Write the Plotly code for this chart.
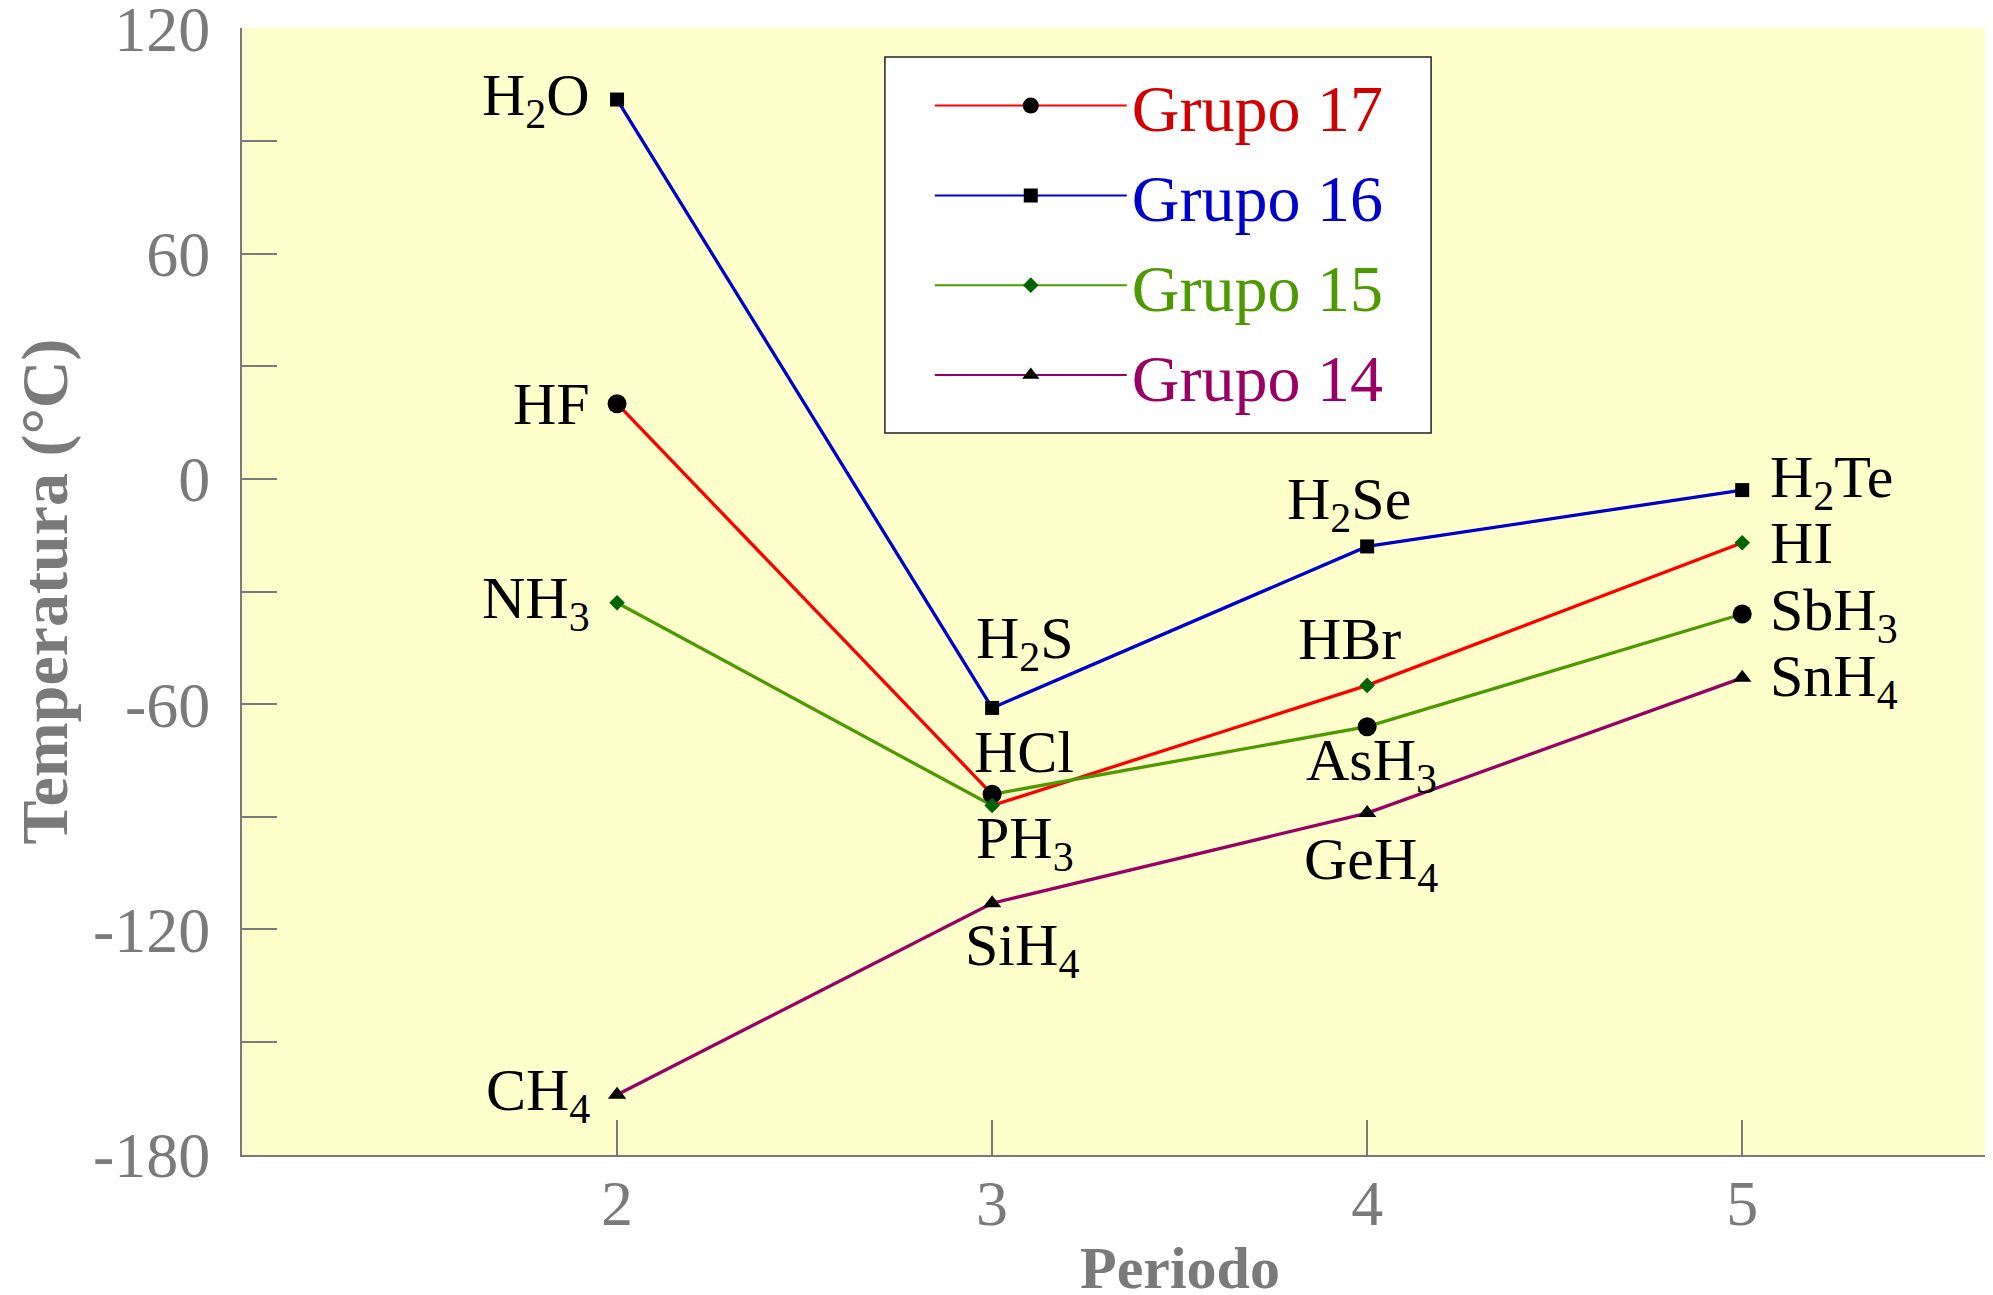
import plotly.graph_objects as go

# ---- data ----
periods = [2, 3, 4, 5]
g17 = [20, -84, -55, -17]     # HF, HCl, HBr, HI
g16 = [101, -61, -18, -3]     # H2O, H2S, H2Se, H2Te
g15 = [-33, -87, -66, -36]    # NH3, PH3, AsH3, SbH3
g14 = [-164, -113, -89, -53]  # CH4, SiH4, GeH4, SnH4

names17 = ["HF", "HCl", "HBr", "HI"]
names16 = ["H<sub>2</sub>O", "H<sub>2</sub>S", "H<sub>2</sub>Se", "H<sub>2</sub>Te"]
names15 = ["NH<sub>3</sub>", "PH<sub>3</sub>", "AsH<sub>3</sub>", "SbH<sub>3</sub>"]
names14 = ["CH<sub>4</sub>", "SiH<sub>4</sub>", "GeH<sub>4</sub>", "SnH<sub>4</sub>"]

groups = ["Grupo 17", "Grupo 16", "Grupo 15", "Grupo 14"]
y_ticks = [120, 60, 0, -60, -120, -180]
x_ticks = [2, 3, 4, 5]
x_full_range = [1, 6]

FONT = "Liberation Serif"
GRAY = "#7a7a7a"
LINE_COLORS = ["#ff0000", "#0000cc", "#4c9a00", "#990066"]
TEXT_COLORS = ["#d00000", "#0000cc", "#4c9a00", "#990066"]
DKGREEN = "#006400"

fig = go.Figure()

# red / green lines: at period 3 the drawing resumes from the other group's point
red_x = [periods[0], periods[1], periods[1], periods[2], periods[3]]
red_y = [g17[0], g17[1], g15[1], g17[2], g17[3]]
green_x = red_x
green_y = [g15[0], g15[1], g17[1], g15[2], g15[3]]

line_traces = [
    (red_x, red_y, LINE_COLORS[0]),
    (periods, g16, LINE_COLORS[1]),
    (green_x, green_y, LINE_COLORS[2]),
    (periods, g14, LINE_COLORS[3]),
]
for lx, ly, c in line_traces:
    fig.add_trace(go.Scatter(x=lx, y=ly, mode="lines", line=dict(color=c, width=3.3),
                             showlegend=False, hoverinfo="skip"))

# markers (as drawn in the source: HBr/HI carry diamonds, AsH3/SbH3 circles)
marker_sets = [
    (periods[:2], g17[:2], "circle", 19, "black"),
    (periods[2:], g17[2:], "diamond", 12, DKGREEN),
    (periods, g16, "square", 14, "black"),
    (periods[:2], g15[:2], "diamond", 12, DKGREEN),
    (periods[2:], g15[2:], "circle", 19, "black"),
    (periods, g14, "triangle-up", 16, "black"),
]
for mx, my, sym, sz, col in marker_sets:
    fig.add_trace(go.Scatter(x=mx, y=my, mode="markers",
                             marker=dict(symbol=sym, size=sz, color=col, opacity=1, line=dict(width=0)),
                             showlegend=False, hoverinfo="skip"))

# legend entries
legend_markers = [("circle", 16, "black"), ("square", 14, "black"),
                  ("diamond", 12, DKGREEN), ("triangle-up", 15, "black")]
for g, lc, tc, (sym, sz, mc) in zip(groups, LINE_COLORS, TEXT_COLORS, legend_markers):
    fig.add_trace(go.Scatter(
        x=[None], y=[None], mode="lines+markers",
        name=f"<span style='color:{tc}'>{g}</span>",
        legendgroup=g,
        line=dict(color=lc, width=2),
        marker=dict(symbol=sym, size=sz, color=mc, opacity=1),
    ))

# legend frame
fig.add_shape(type="rect", xref="paper", yref="paper",
              x0=0.3655, x1=0.676, y0=0.6406, y1=0.9743,
              fillcolor="white", line=dict(color="#222222", width=1.5), layer="below")

# ---- point labels ----
label_specs = [
    (names17, g17, [("right", -25, 0), ("center", 32, 42), ("center", -18, 46), ("left", 26, 0)]),
    (names16, g16, [("right", -25, 0), ("center", 33, 65), ("center", -18, 43), ("left", 26, 9)]),
    (names15, g15, [("right", -25, 0), ("center", 33, -37), ("center", 4, -38), ("left", 26, 0)]),
    (names14, g14, [("right", -25, 0), ("center", 30, -46), ("center", 4, -50), ("left", 26, -3)]),
]
for nm, vals, specs in label_specs:
    for px, v, t, (xa, xs, ys) in zip(periods, vals, nm, specs):
        fig.add_annotation(
            x=px, y=v, xref="x", yref="y", text=t, showarrow=False,
            xanchor=xa, yanchor="middle", xshift=xs, yshift=ys,
            font=dict(family=FONT, size=60, color="black"),
        )

# x axis title, centred on the full period axis (the plot runs past the right edge)
fig.add_annotation(
    x=sum(x_full_range) / 2, xref="x", y=-0.1003, yref="paper",
    text="<b>Periodo</b>", showarrow=False, xanchor="center", yanchor="middle",
    font=dict(family=FONT, size=60, color=GRAY),
)

fig.update_layout(
    width=1993, height=1295,
    margin=dict(l=234, r=0, t=20, b=148, autoexpand=False),
    paper_bgcolor="white",
    plot_bgcolor="#ffffcc",
    font=dict(family=FONT, color=GRAY),
    showlegend=True,
    legend=dict(
        x=0.391, y=0.975, xanchor="left", yanchor="top",
        bgcolor="rgba(0,0,0,0)", borderwidth=0,
        font=dict(family=FONT, size=66),
        itemwidth=192, tracegroupgap=1, traceorder="grouped",
    ),
)

fig.update_xaxes(
    range=[1, 5.69], tickvals=x_ticks, ticktext=[str(v) for v in x_ticks],
    ticks="inside", ticklen=35, tickwidth=1.5, tickcolor=GRAY,
    showline=True, linecolor=GRAY, linewidth=2, mirror=False,
    showgrid=False, zeroline=False, automargin=False,
    tickfont=dict(family=FONT, size=64, color=GRAY),
    ticklabelstandoff=-9, ticklabeloverflow="allow",
)
fig.update_yaxes(
    range=[-180.05, 120.05], tickvals=y_ticks, ticktext=[str(v) for v in y_ticks],
    ticks="inside", ticklen=35, tickwidth=1.5, tickcolor=GRAY,
    minor=dict(dtick=30, tick0=0, ticks="inside", ticklen=35, tickwidth=1.5, tickcolor=GRAY),
    showline=True, linecolor=GRAY, linewidth=2, mirror=False,
    showgrid=False, zeroline=False, automargin=False,
    tickfont=dict(family=FONT, size=64, color=GRAY),
    ticklabelstandoff=17, ticklabeloverflow="allow",
    title=dict(text="<b>Temperatura (°C)</b>", font=dict(family=FONT, size=66, color=GRAY), standoff=16),
)

fig.write_html("out.html")
